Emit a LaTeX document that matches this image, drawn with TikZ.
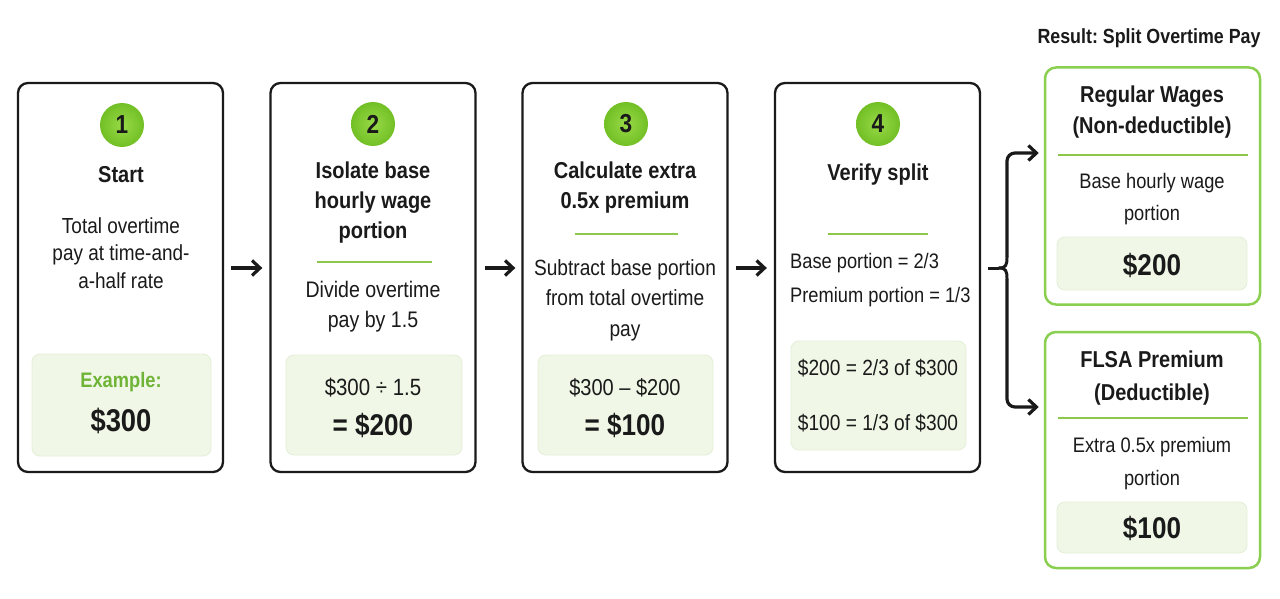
\documentclass[tikz,border=0pt]{standalone}
\usepackage{fontspec}
\setmainfont{Liberation Sans}[FakeStretch=0.87]
\usetikzlibrary{arrows.meta,calc}
\frenchspacing
\definecolor{stepgreen}{HTML}{7CC62B}
\definecolor{steplight}{HTML}{98DA48}
\definecolor{stepdark}{HTML}{72BF25}
\definecolor{sepgreen}{HTML}{8DC74A}
\definecolor{innerfill}{HTML}{F0F7E7}
\definecolor{innerdraw}{HTML}{E4EFD8}
\definecolor{resgreen}{HTML}{8ACF4F}
\definecolor{exgreen}{HTML}{6FB437}
\definecolor{ink}{HTML}{1A1A1A}
\begin{document}
\begin{tikzpicture}[x=1pt,y=-1pt,
 stepbox/.style={draw=ink, line width=2.3pt, rounded corners=10pt, fill=white, inner sep=0pt, minimum width=205pt, minimum height=389pt},
 resbox/.style={draw=resgreen, line width=2.5pt, rounded corners=11pt, fill=white, inner sep=0pt, minimum width=215pt, minimum height=237pt},
 innerbox/.style={draw=innerdraw, line width=0.8pt, fill=innerfill, rounded corners=8pt, inner sep=0pt},
 num/.style={circle, inner color=steplight, outer color=stepdark, minimum size=44pt, inner sep=0pt, font=\fontsize{26}{28}\selectfont\bfseries, text=ink},
 ttl/.style={align=center, font=\fontsize{23}{31}\selectfont\bfseries, text=ink, inner sep=0pt},
 body/.style={align=center, font=\fontsize{21}{30}\selectfont, text=ink, inner sep=0pt},
 big/.style={font=\fontsize{30}{32}\selectfont\bfseries, text=ink, inner sep=0pt},
 sep/.style={draw=sepgreen, line width=2pt},
 arr/.style={draw=ink, line width=3.2pt, -{Straight Barb[length=8pt,width=15pt]}},
 ln/.style={draw=ink, line width=3pt},
]
\useasboundingbox (0,0) rectangle (1280,599);
\fill[white] (0,0) rectangle (1280,599);

% ---------- step boxes ----------
\node[stepbox] (b1) at (120.5,277.5) {};
\node[stepbox] (b2) at (373,277.5) {};
\node[stepbox] (b3) at (625,277.5) {};
\node[stepbox] (b4) at (877.5,277.5) {};

% ---------- step 1 ----------
\node[num] (n1) at (122,125) {1};
\node[ttl] (t1) at (121,175) {Start};
\node[body, font=\fontsize{21.8}{27.5}\selectfont] (d1) at (121,253) {Total overtime\\pay at time-and-\\a-half rate};
\node[innerbox, minimum width=179pt, minimum height=102pt] (i1) at (121.5,405) {};
\node[font=\fontsize{21}{24}\selectfont\bfseries, text=exgreen, inner sep=0pt] (e1) at (121,382) {Example:};
\node[big, font=\fontsize{31.5}{33}\selectfont\bfseries] (v1) at (121,421) {\$300};

% ---------- step 2 ----------
\node[num] (n2) at (373,124) {2};
\node[ttl, font=\fontsize{23}{30}\selectfont\bfseries] (t2) at (373,203) {Isolate base\\hourly wage\\portion};
\coordinate (s2a) at (317,262); \coordinate (s2b) at (432,262);
\draw[sep] (s2a) -- (s2b);
\node[body, font=\fontsize{22.5}{30}\selectfont] (d2) at (373,307) {Divide overtime\\pay by 1.5};
\node[innerbox, minimum width=176pt, minimum height=100pt] (i2) at (374,405) {};
\node[body, font=\fontsize{23.5}{26}\selectfont] (c2) at (373,388) {\$300 ÷ 1.5};
\node[big] (v2) at (373,425) {= \$200};

% ---------- step 3 ----------
\node[num] (n3) at (626,124) {3};
\node[ttl, font=\fontsize{23}{30}\selectfont\bfseries] (t3) at (625,188) {Calculate extra\\0.5x premium};
\coordinate (s3a) at (575,234); \coordinate (s3b) at (678,234);
\draw[sep] (s3a) -- (s3b);
\node[body, font=\fontsize{22}{30.5}\selectfont] (d3) at (625,300) {Subtract base portion\\from total overtime\\pay};
\node[innerbox, minimum width=175pt, minimum height=100pt] (i3) at (625.5,405) {};
\node[body, font=\fontsize{23}{26}\selectfont] (c3) at (625,388) {\$300 – \$200};
\node[big] (v3) at (625,425) {= \$100};

% ---------- step 4 ----------
\node[num] (n4) at (878,124) {4};
\node[ttl] (t4) at (878,175) {Verify split};
\coordinate (s4a) at (828,234); \coordinate (s4b) at (928,234);
\draw[sep] (s4a) -- (s4b);
\node[body, align=left, anchor=west, font=\fontsize{21}{34}\selectfont] (d4) at (790,280) {Base portion = 2/3\\Premium portion = 1/3};
\node[innerbox, minimum width=175pt, minimum height=109pt] (i4) at (878.5,395.5) {};
\node[body, font=\fontsize{22}{26}\selectfont] (c4a) at (878,368) {\$200 = 2/3 of \$300};
\node[body, font=\fontsize{22}{26}\selectfont] (c4b) at (878,423) {\$100 = 1/3 of \$300};

% ---------- arrows between steps ----------
\coordinate (ay) at (0,268);
\draw[arr] ($(b1.east|-ay)+(7,0)$) -- ($(b2.west|-ay)+(-7,0)$);
\draw[arr] ($(b2.east|-ay)+(8,0)$) -- ($(b3.west|-ay)+(-6,0)$);
\draw[arr] ($(b3.east|-ay)+(7,0)$) -- ($(b4.west|-ay)+(-7,0)$);

% ---------- result title ----------
\node[font=\fontsize{20.5}{22}\selectfont\bfseries, text=ink, inner sep=0pt] (rt) at (1149,38) {Result: Split Overtime Pay};

% ---------- result boxes ----------
\node[resbox] (rg) at (1152.5,186) {};
\node[ttl] (rgt) at (1152,112) {Regular Wages\\(Non-deductible)};
\coordinate (rsa) at (1058,155); \coordinate (rsb) at (1248,155);
\draw[sep] (rsa) -- (rsb);
\node[body, font=\fontsize{21}{32}\selectfont] (rgd) at (1152,199) {Base hourly wage\\portion};
\node[innerbox, minimum width=190pt, minimum height=53pt] (rgi) at (1152,263.5) {};
\node[big] (rgv) at (1152,265) {\$200};

\node[resbox, minimum height=236pt] (fl) at (1152.5,450) {};
\node[ttl, font=\fontsize{23}{33}\selectfont\bfseries] (flt) at (1152,378.5) {FLSA Premium\\(Deductible)};
\coordinate (fsa) at (1058,418); \coordinate (fsb) at (1248,418);
\draw[sep] (fsa) -- (fsb);
\node[body, font=\fontsize{21}{33}\selectfont] (fld) at (1152,463.5) {Extra 0.5x premium\\portion};
\node[innerbox, minimum width=190pt, minimum height=51pt] (fli) at (1152,527.5) {};
\node[big] (flv) at (1152,528) {\$100};

% ---------- split bracket ----------
\coordinate (bs) at ($(b4.east|-ay)+(7,0)$);
\coordinate (cusp) at (999,268);
\coordinate (bt) at (1007,153);
\coordinate (bb) at (1007,407);
\draw[ln] (bs) -- (cusp);
\draw[ln, line cap=round] (cusp) .. controls (1006,268) and (1007,265) .. (1007,257);
\draw[ln, line cap=round] (cusp) .. controls (1006,268) and (1007,271) .. (1007,279);
\draw[arr, rounded corners=8pt] (1007,257) -- (bt) -- ([xshift=-5pt]rg.west|-bt);
\draw[arr, rounded corners=8pt] (1007,279) -- (bb) -- ([xshift=-5pt]fl.west|-bb);
\end{tikzpicture}
\end{document}
